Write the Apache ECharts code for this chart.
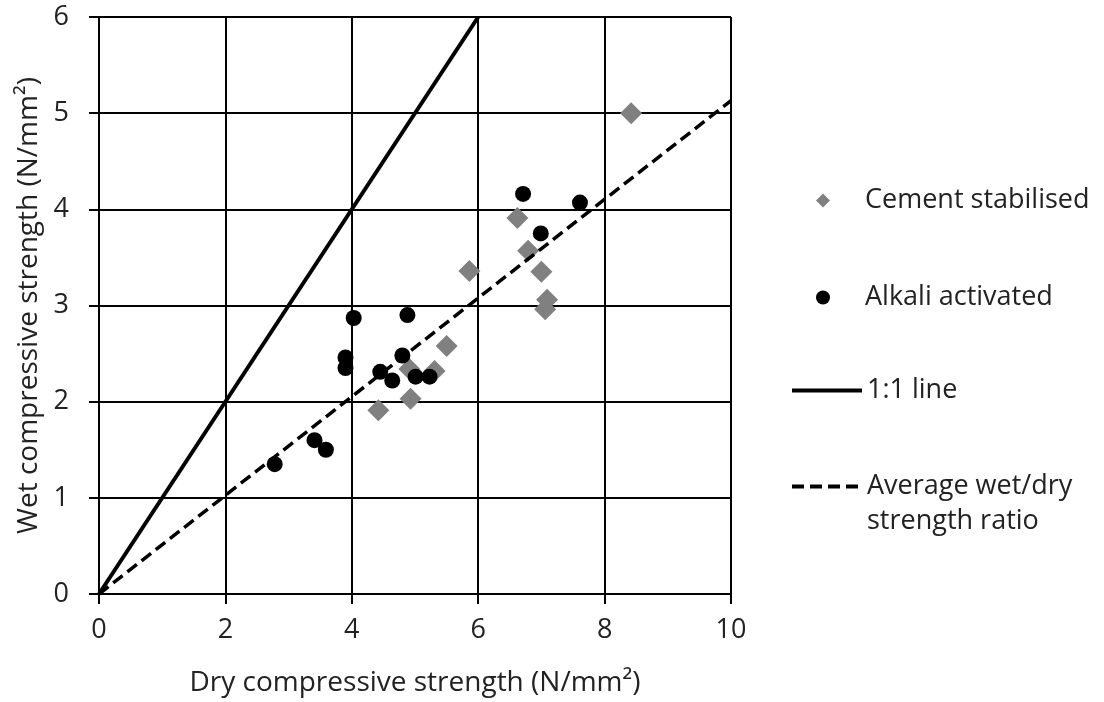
<!DOCTYPE html>
<html>
<head>
<meta charset="utf-8">
<script src="https://cdn.jsdelivr.net/npm/echarts@6/dist/echarts.min.js"></script>
<style>
html,body{margin:0;padding:0;background:#fff;}
#chart{width:1104px;height:702px;}
</style>
</head>
<body>
<div id="chart"></div>
<script>
// Data
const xTicks = [0, 2, 4, 6, 8, 10];
const yTicks = [0, 1, 2, 3, 4, 5, 6];
const cementDry = [4.42, 4.93, 4.91, 5.31, 5.50, 5.86, 6.62, 6.79, 7.00, 7.09, 7.06, 8.42];
const cementWet = [1.91, 2.03, 2.34, 2.32, 2.58, 3.36, 3.91, 3.57, 3.35, 3.06, 2.96, 5.00];
const alkaliDry = [2.78, 3.41, 3.59, 3.90, 3.90, 4.03, 4.45, 4.64, 4.80, 4.88, 5.01, 5.23, 6.71, 6.99, 7.61];
const alkaliWet = [1.35, 1.60, 1.50, 2.46, 2.35, 2.87, 2.31, 2.22, 2.48, 2.90, 2.26, 2.26, 4.16, 3.75, 4.07];
const oneToOne = [[0, 0], [6, 6]];
const avgRatio = [[0, 0], [10, 5.13]];
const names = ['Cement stabilised', 'Alkali activated', '1:1 line', 'Average wet/dry\nstrength ratio'];

const FONT = '"Open Sans", sans-serif';
const TXT = '#222';
const zip = (a, b) => a.map((v, i) => [v, b[i]]);

const chart = echarts.init(document.getElementById('chart'), null, {renderer: 'canvas'});
const legendText = {fontFamily: FONT, fontSize: 27, color: TXT};
chart.setOption({
  animation: false,
  backgroundColor: '#fff',
  grid: {left: 99, right: 373, top: 17, bottom: 107.5},
  xAxis: {
    type: 'value', min: 0, max: 10, interval: 2,
    name: 'Dry compressive strength (N/mm²)',
    nameLocation: 'middle', nameGap: 75,
    nameTextStyle: {fontFamily: FONT, fontSize: 28, color: TXT},
    axisLine: {show: true, lineStyle: {color: '#000', width: 2}},
    axisTick: {show: true, length: 10, lineStyle: {color: '#000', width: 2}},
    axisLabel: {margin: 23, fontFamily: FONT, fontSize: 27, color: TXT},
    splitLine: {show: true, lineStyle: {color: '#000', width: 2}}
  },
  yAxis: {
    type: 'value', min: 0, max: 6, interval: 1,
    name: 'Wet compressive strength (N/mm²)',
    nameLocation: 'middle', nameGap: 56,
    nameTextStyle: {fontFamily: FONT, fontSize: 28, color: TXT},
    axisLine: {show: true, lineStyle: {color: '#000', width: 2}},
    axisTick: {show: true, length: 10, lineStyle: {color: '#000', width: 2}},
    axisLabel: {margin: 30, fontFamily: FONT, fontSize: 27, color: TXT},
    splitLine: {show: true, lineStyle: {color: '#000', width: 2}}
  },
  legend: [
    {left: 811, top: 182, itemWidth: 14, itemHeight: 14, data: [{name: names[0], icon: 'diamond'}],
     textStyle: Object.assign({padding: [0, 0, 0, 30]}, legendText)},
    {left: 811, top: 279, itemWidth: 14, itemHeight: 14, data: [{name: names[1], icon: 'circle'}],
     textStyle: Object.assign({padding: [0, 0, 0, 30]}, legendText)},
    {left: 785, top: 372, itemWidth: 70, itemHeight: 14, data: [{name: names[2]}],
     itemStyle: {opacity: 0}, lineStyle: {width: 4, type: 'solid'}, textStyle: legendText},
    {left: 785, top: 429, itemWidth: 70, itemHeight: 14, data: [{name: names[3]}],
     itemStyle: {opacity: 0}, lineStyle: {width: 4, type: [12, 6]},
     formatter: (n) => ' \n' + n,
     textStyle: Object.assign({lineHeight: 35}, legendText)}
  ],
  series: [
    {name: names[2], type: 'line', data: oneToOne, symbol: 'none',
     lineStyle: {color: '#000', width: 4, type: 'solid'}, itemStyle: {color: '#000'}},
    {name: names[3], type: 'line', data: avgRatio, symbol: 'none',
     lineStyle: {color: '#000', width: 3.5, type: [12, 6]}, itemStyle: {color: '#000'}},
    {name: names[0], type: 'scatter', data: zip(cementDry, cementWet), symbol: 'diamond', symbolSize: 22,
     itemStyle: {color: '#808080', opacity: 1}},
    {name: names[1], type: 'scatter', data: zip(alkaliDry, alkaliWet), symbol: 'circle', symbolSize: 16,
     itemStyle: {color: '#000', opacity: 1}}
  ]
});
</script>
</body>
</html>
